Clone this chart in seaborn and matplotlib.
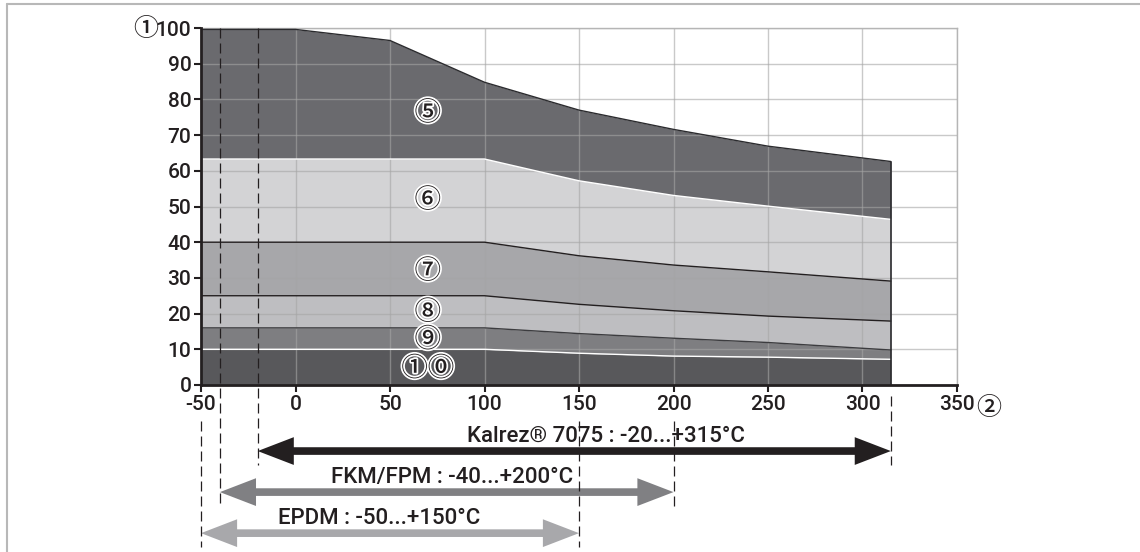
import pandas as pd
import seaborn as sns
import matplotlib.pyplot as plt
import matplotlib.patheffects as pe
from matplotlib.lines import Line2D

# temperature (°C) and upper edge of each pressure band (%)
temps = [-50, 0, 50, 100, 150, 200, 250, 315]
top_5 = [99.6, 99.6, 96.5, 84.8, 77.0, 71.6, 66.9, 62.6]
top_6 = [63.3, 63.3, 63.3, 63.3, 57.2, 53.1, 50.1, 46.4]
top_7 = [40.0, 40.0, 40.0, 40.0, 36.2, 33.6, 31.7, 29.1]
top_8 = [25.0, 25.0, 25.0, 25.0, 22.6, 20.8, 19.3, 17.9]
top_9 = [16.0, 16.0, 16.0, 16.0, 14.4, 13.1, 11.9, 9.8]
top_10 = [10.0, 10.0, 10.0, 10.0, 8.9, 8.1, 7.8, 7.2]

band_labels = ["⑤", "⑥", "⑦", "⑧", "⑨", "①⓪"]
band_colors = ["#6a6a6e", "#d3d3d5", "#a7a7aa", "#bebec1", "#7e7e81", "#58585b"]
edge_colors = ["#2b2b2e", "#ffffff", "#231f20", "#231f20", "#3c3c3f", "#ffffff"]
label_y = [76.2, 51.8, 31.9, 20.4, 12.7, 4.6]

# seal materials and their temperature ranges
materials = ["Kalrez® 7075 : -20...+315°C", "FKM/FPM : -40...+200°C", "EPDM : -50...+150°C"]
mat_min = [-20, -40, -50]
mat_max = [315, 200, 150]
mat_colors = ["#231f20", "#808083", "#a8a8ab"]

x_ticks = [-50, 0, 50, 100, 150, 200, 250, 300, 350]
x_ticklabels = ["-50", "0", "50", "100", "150", "200", "250", "300", "350"]
y_ticks = [0, 10, 20, 30, 40, 50, 60, 70, 80, 90, 100]
y_ticklabels = ["0", "10", "20", "30", "40", "50", "60", "70", "80", "90", "100"]

# layout helpers (data units below the axis)
arrow_y = [-18.5, -30.0, -41.5]
text_x = [164, 83, 44.5]
text_y = [-14.3, -25.8, -37.3]
guide_top_min = [100, 100, -10]
guide_top_max = [-3, -10, -10]

sns.set_theme(style="white")
plt.rcParams['font.family'] = ['Roboto', 'Noto Sans CJK JP', 'DejaVu Sans']
plt.rcParams['font.weight'] = 'medium'
plt.rcParams['axes.unicode_minus'] = False
TXT = "#231f20"
CIRC = ['Noto Sans CJK JP', 'DejaVu Sans']

fig = plt.figure(figsize=(11.4, 5.52), dpi=100)
ax = fig.add_axes([201 / 1140, 167 / 552, 756 / 1140, 357 / 552])

tops = [top_5, top_6, top_7, top_8, top_9, top_10]
bottoms = tops[1:] + [[0] * len(temps)]
for top, bottom, color in zip(tops, bottoms, band_colors):
    ax.fill_between(temps, bottom, top, color=color, lw=0, zorder=1)

for top, ec in zip(tops, edge_colors):
    df = pd.DataFrame({"t": temps, "p": top})
    sns.lineplot(data=df, x="t", y="p", color=ec, lw=1.0, ax=ax, zorder=3)
ax.plot([temps[-1], temps[-1]], [0, top_5[-1]], color="#2b2b2e", lw=1.2, zorder=3)

for lab, ly in zip(band_labels, label_y):
    ax.text(70, ly, lab, ha="center", va="center", fontsize=19, color=TXT,
            family=CIRC, zorder=5,
            path_effects=[pe.withStroke(linewidth=2.5, foreground="white")])

# grid over the fills
ax.set_axisbelow('line')
ax.grid(True, color="#a5a5a5", alpha=0.6, lw=1.0)

ax.set_xlim(-50, 350)
ax.set_ylim(0, 100)
ax.set_xticks(x_ticks)
ax.set_xticklabels(x_ticklabels)
ax.set_yticks(y_ticks)
ax.set_yticklabels(y_ticklabels)
ax.set_xlabel("")
ax.set_ylabel("")
ax.tick_params(axis="both", which="both", direction="out", length=5, width=1.5,
               color=TXT, labelsize=15, labelcolor=TXT, pad=2,
               bottom=True, left=True)
for s in ["top", "right"]:
    ax.spines[s].set_color("#b5b5b5")
    ax.spines[s].set_linewidth(1.0)
for s in ["left", "bottom"]:
    ax.spines[s].set_color(TXT)
    ax.spines[s].set_linewidth(2.0)
    ax.spines[s].set_zorder(4)

# axis markers ① (pressure) and ② (temperature)
ax.annotate("①", xy=(-50, 100), xytext=(-40, -0.5), textcoords="offset points",
            ha="center", va="center", fontsize=18, color=TXT, family=CIRC,
            annotation_clip=False)
ax.annotate("②", xy=(350, 0), xytext=(23, -16.5), textcoords="offset points",
            ha="center", va="center", fontsize=18, color=TXT, family=CIRC,
            annotation_clip=False)

# temperature range arrows below the chart
for i in range(len(materials)):
    y = arrow_y[i]
    for xv, yt in [(mat_min[i], guide_top_min[i]), (mat_max[i], guide_top_max[i])]:
        ax.plot([xv, xv], [yt, y - 4], color=TXT, lw=0.9, ls=(0, (8, 4)),
                clip_on=False, zorder=4)
    ax.annotate("", xy=(mat_max[i], y), xytext=(mat_min[i], y), annotation_clip=False,
                arrowprops=dict(arrowstyle="-", color=mat_colors[i], lw=5.5,
                                shrinkA=10, shrinkB=10, capstyle="butt"))
    ax.annotate("", xy=(mat_max[i], y), xytext=(mat_min[i], y), annotation_clip=False,
                arrowprops=dict(arrowstyle="<|-|>,head_length=2.6,head_width=1.0",
                                mutation_scale=10, fc=mat_colors[i], ec="none", lw=0,
                                shrinkA=0, shrinkB=0))
    ax.text(text_x[i], text_y[i], materials[i], ha="center", va="center",
            fontsize=16, color=TXT, clip_on=False)

# light frame of the original figure
fig.add_artist(Line2D([7 / 1140, 7 / 1140], [0, 1 - 4 / 552], color="#b8b8b8", lw=1.5,
                      transform=fig.transFigure))
fig.add_artist(Line2D([7 / 1140, 1], [1 - 4 / 552, 1 - 4 / 552], color="#b8b8b8", lw=1.5,
                      transform=fig.transFigure))

fig.savefig("out.png", dpi=100)
